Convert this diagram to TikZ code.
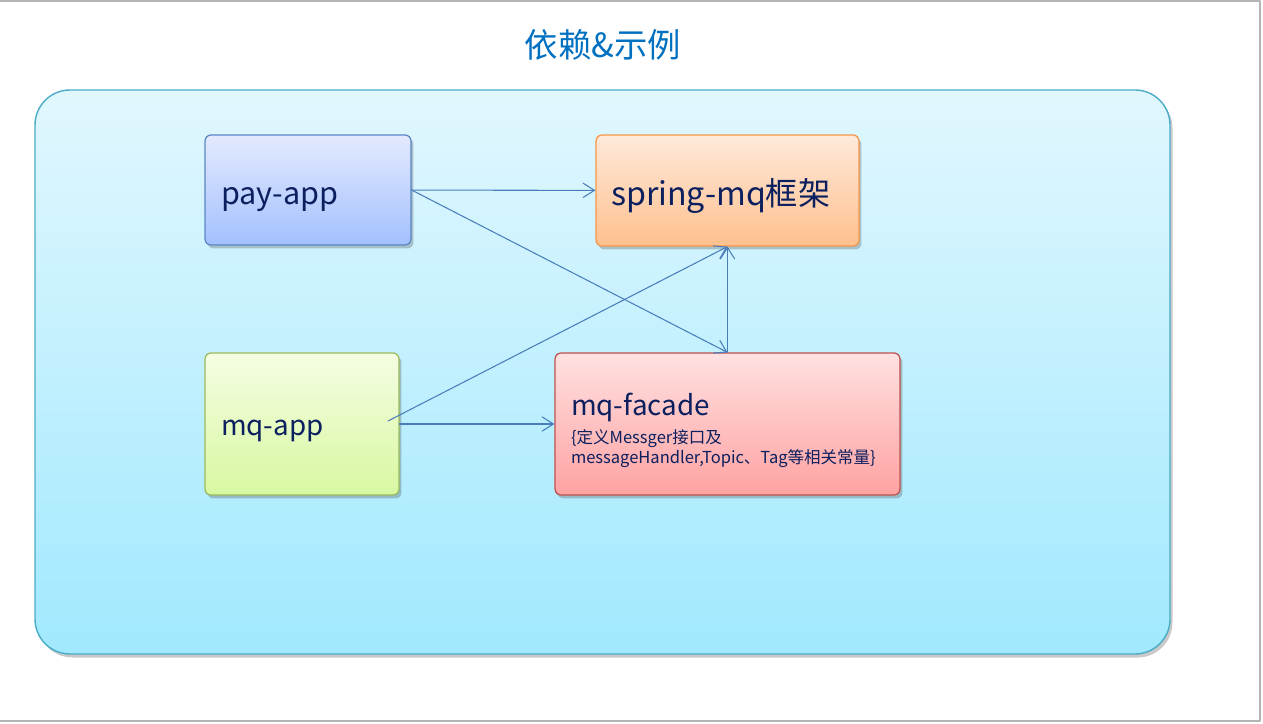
\documentclass[tikz,border=0pt]{standalone}
\usepackage{fontspec}
\setmainfont{Noto Sans CJK SC}
\usepackage{xcolor}
\usepackage{tikz}
\usetikzlibrary{arrows.meta,positioning,calc,shadows}
\definecolor{ink}{HTML}{0C1F5E}
\definecolor{titleblue}{HTML}{0070C0}
\definecolor{framegray}{HTML}{B4B4B4}
\definecolor{arrowblue}{HTML}{4A7EBB}
\definecolor{panelline}{HTML}{4BACC6}
\definecolor{paneltop}{HTML}{E1F7FE}
\definecolor{panelbot}{HTML}{A1E9FE}
\definecolor{payline}{HTML}{5A86C5}
\definecolor{paytop}{HTML}{E3EAFE}
\definecolor{paybot}{HTML}{A3C0FE}
\definecolor{springline}{HTML}{F79646}
\definecolor{springtop}{HTML}{FEE9DA}
\definecolor{springbot}{HTML}{FEC08E}
\definecolor{mqline}{HTML}{9BBB59}
\definecolor{mqtop}{HTML}{F5FDE3}
\definecolor{mqbot}{HTML}{D8F8A1}
\definecolor{facadeline}{HTML}{C0504D}
\definecolor{facadetop}{HTML}{FFE1E1}
\definecolor{facadebot}{HTML}{FFA2A2}
\tikzset{
    every picture/.style={line cap=round,line join=round},
    softshadow/.style={drop shadow={shadow xshift=0.05cm,shadow yshift=-0.07cm,
      opacity=0.3,fill=black!70}},
    panel/.style={draw=panelline,line width=0.8pt,rounded corners=7mm,
      top color=paneltop,bottom color=panelbot,softshadow},
    modbox/.style={rectangle,line width=0.7pt,rounded corners=1.2mm,
      inner xsep=3.2mm,inner ysep=0pt,align=left,text=ink,softshadow},
    paybox/.style={modbox,draw=payline,top color=paytop,bottom color=paybot},
    springbox/.style={modbox,draw=springline,top color=springtop,bottom color=springbot},
    mqbox/.style={modbox,draw=mqline,top color=mqtop,bottom color=mqbot},
    facadebox/.style={modbox,draw=facadeline,top color=facadetop,bottom color=facadebot},
    deparrow/.style={-{Straight Barb[length=2.3mm,width=2.9mm]},draw=arrowblue,
      line width=0.6pt}
}

\begin{document}
\begin{tikzpicture}[x=0.02cm,y=-0.02cm]
  \useasboundingbox (0,0) rectangle (1263,723);
  \draw[framegray,line width=0.8pt] (0,1) -- (1260,1) -- (1260,721) -- (0,721);
  \node[text=titleblue,font=\fontsize{19}{22}\selectfont] (title) at (603,45) {依赖\&示例};
  \path[panel] (35,90) rectangle (1170,654);
  \node[paybox,minimum width=4.12cm,minimum height=2.2cm,text width=3.48cm,
    text height=0.6cm,text depth=0pt,font=\fontsize{17.4}{20}\selectfont] (payapp) at (308,190) {pay-app};
  \node[springbox,minimum width=5.26cm,minimum height=2.22cm,inner xsep=3mm,text width=4.66cm,
    text height=0.6cm,text depth=0pt,font=\fontsize{18.3}{21}\selectfont] (spring) at (727.5,190.5) {spring-mq框架};
  \node[mqbox,minimum width=3.88cm,minimum height=2.84cm,text width=3.24cm,
    text height=0.44cm,text depth=0pt,font=\fontsize{15.8}{19}\selectfont] (mqapp) at (302,424) {mq-app};
  \node[facadebox,minimum width=6.9cm,minimum height=2.84cm,text width=6.26cm,
    font=\fontsize{9.4}{11.3}\selectfont] (facade) at (727.5,424)
    {{\fontsize{15.8}{18}\selectfont\rule{0pt}{20pt}mq-facade\par}\vspace{3.6pt}\{定义Messger接口及\\messageHandler,Topic、Tag等相关常量\}};
  \coordinate (mqtail) at (388,421);
  \draw[deparrow] (payapp) -- (spring);
  \draw[deparrow] (payapp.east) -- (facade.north);
  \draw[deparrow] (mqtail) -- (spring.south);
  \draw[deparrow] (mqapp.east) -- (mqapp.east -| facade.west);
  \draw[deparrow] (facade.north) -- (spring.south);
\end{tikzpicture}
\end{document}
